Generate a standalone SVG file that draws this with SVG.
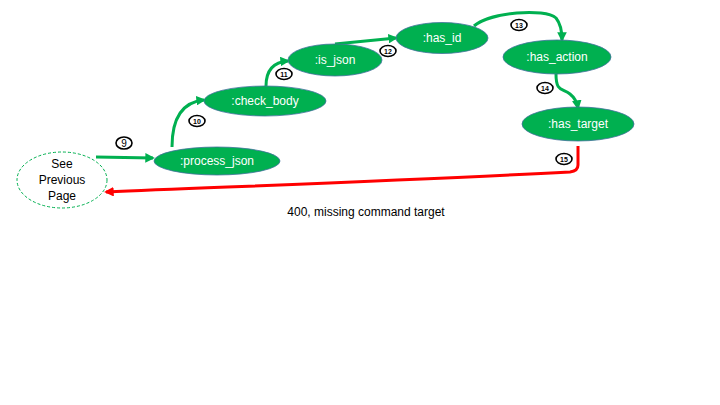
<svg xmlns="http://www.w3.org/2000/svg" width="720" height="405" viewBox="0 0 720 405">
<style>
.node{fill:#00B050;stroke:#41719C;stroke-width:0.8}
.nt{fill:#fff;font-family:"Liberation Sans",Arial,sans-serif;font-size:12px;text-anchor:middle}
.c{fill:none;stroke:#00B050;stroke-width:3}
.r{fill:none;stroke:#FF0000;stroke-width:3}
.lb{fill:#fff;stroke:#000;stroke-width:1.6}
.lt{fill:#000;font-family:"Liberation Sans",Arial,sans-serif;font-size:7px;font-weight:bold;text-anchor:middle}
.bt{fill:#000;font-family:"Liberation Sans",Arial,sans-serif;font-size:12px;text-anchor:middle}
</style>
<defs>
<marker id="ag" viewBox="0 0 10 10" refX="8" refY="5" markerWidth="3.2" markerHeight="3.2" orient="auto" markerUnits="strokeWidth"><path d="M0,0 L10,5 L0,10 z" fill="#00B050"/></marker>
<marker id="ar" viewBox="0 0 10 10" refX="8" refY="5" markerWidth="3.2" markerHeight="3.2" orient="auto" markerUnits="strokeWidth"><path d="M0,0 L10,5 L0,10 z" fill="#FF0000"/></marker>
</defs>
<rect width="720" height="405" fill="#fff"/>
<g id="connectors">
<path class="c" d="M96,157 L153,158" marker-end="url(#ag)"/>
<path class="c" d="M172,147 C172,118 182,102 204,100" marker-end="url(#ag)"/>
<path class="c" d="M266,86 C266,70 274,62 288,61" marker-end="url(#ag)"/>
<path class="c" d="M335,44 C355,42 375,40 396,38" marker-end="url(#ag)"/>
<path class="c" d="M474,26 C490,12 545,8 556,18 C560,23 562,32 562,40" marker-end="url(#ag)"/>
<path class="c" d="M556,74 C556,92 562,88 570,94 C575,98 577,102 578,108" marker-end="url(#ag)"/>
<path class="r" d="M578,146 L578,165 Q578,171 570,172 C420,180 250,186 106,192" marker-end="url(#ar)"/>
<g id="labels">
<ellipse class="lb" cx="124" cy="143" rx="8" ry="6"/><text class="lt" x="124" y="147" style="font-size:10px;font-weight:normal">9</text>
<ellipse class="lb" cx="197" cy="121" rx="8" ry="5.5"/><text class="lt" x="197" y="123.5">10</text>
<ellipse class="lb" cx="284" cy="74" rx="8" ry="5.5"/><text class="lt" x="284" y="76.5">11</text>
<ellipse class="lb" cx="388" cy="51" rx="8" ry="5.5"/><text class="lt" x="388" y="53.5">12</text>
<ellipse class="lb" cx="519" cy="25" rx="8" ry="5.5"/><text class="lt" x="519" y="27.5">13</text>
<ellipse class="lb" cx="545" cy="88" rx="8" ry="5.5"/><text class="lt" x="545" y="90.5">14</text>
<ellipse class="lb" cx="564" cy="159" rx="8" ry="5.5"/><text class="lt" x="564" y="161.5">15</text>
</g>
<text class="bt" x="366" y="216">400, missing command target</text>
</g>
<g id="see_previous">
<ellipse cx="62" cy="180" rx="45" ry="28" fill="#fff" stroke="#00B050" stroke-width="1" stroke-dasharray="3,2"/>
<text class="bt" x="62" y="168">See</text>
<text class="bt" x="62" y="184">Previous</text>
<text class="bt" x="62" y="200">Page</text>
</g>
<g id="process_json"><ellipse class="node" cx="217" cy="161" rx="63" ry="14"/><text class="nt" x="217" y="165">:process_json</text></g>
<g id="check_body"><ellipse class="node" cx="265" cy="101" rx="61" ry="15"/><text class="nt" x="265" y="105">:check_body</text></g>
<g id="is_json"><ellipse class="node" cx="335" cy="60" rx="47" ry="16"/><text class="nt" x="335" y="64">:is_json</text></g>
<g id="has_id"><ellipse class="node" cx="442" cy="38" rx="46" ry="15.5"/><text class="nt" x="442" y="42">:has_id</text></g>
<g id="has_action"><ellipse class="node" cx="557" cy="57" rx="54" ry="17"/><text class="nt" x="557" y="61">:has_action</text></g>
<g id="has_target"><ellipse class="node" cx="578" cy="124" rx="56" ry="17"/><text class="nt" x="578" y="128">:has_target</text></g>
</svg>
